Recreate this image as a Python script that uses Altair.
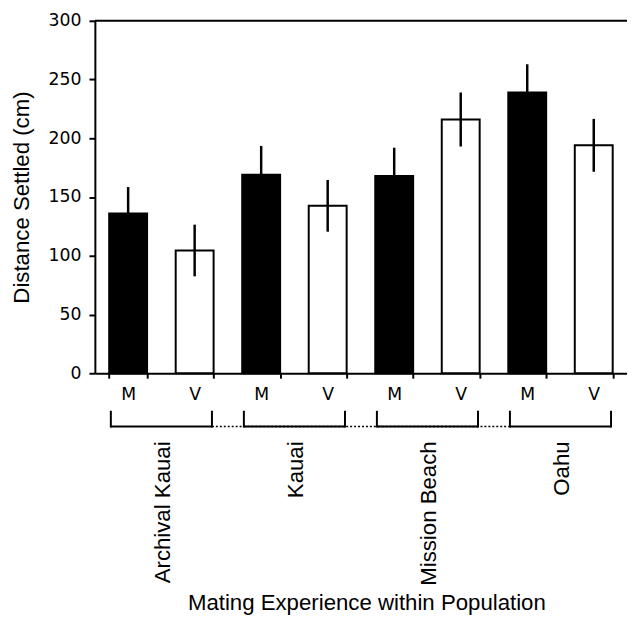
import altair as alt
import pandas as pd

populations = ["Archival Kauai", "Kauai", "Mission Beach", "Oahu"]
experience = ["M", "V"]
mated_mean = [136, 169, 168, 239]
mated_se = [22.5, 24.5, 24, 24]
virgin_mean = [104.5, 142.5, 216, 194]
virgin_se = [22, 22, 23, 22.5]
y_ticks = [0, 50, 100, 150, 200, 250, 300]

rows = []
for i, p in enumerate(populations):
    for e, means, ses in (("M", mated_mean, mated_se), ("V", virgin_mean, virgin_se)):
        rows.append(dict(pop=p, exp=e, cat=f"{p}|{e}", mean=means[i],
                         lo=means[i] - ses[i], hi=means[i] + ses[i]))
df = pd.DataFrame(rows)
cats = list(df["cat"])
pop_df = pd.DataFrame({"pop": populations})
span_df = pd.DataFrame({"start": [populations[0]], "end": [populations[-1]]})

W, H = 539, 357
LABEL_SIZE = 17.5
xcat = alt.Scale(domain=cats, paddingInner=0.43, paddingOuter=0.215)
xpop = alt.Scale(domain=populations, paddingInner=0, paddingOuter=0)
yscale = alt.Scale(domain=[0, 300])

x_axis = alt.Axis(labelExpr="split(datum.label, '|')[1]", tickBand="extent",
                  labelAngle=0, labelFont="DejaVu Sans", labelFontSize=LABEL_SIZE,
                  labelPadding=8, tickSize=5,
                  title="Mating Experience within Population",
                  titleY=232, titleX=275, titleAlign="center",
                  titleBaseline="middle")
y_axis = alt.Axis(values=y_ticks, title="Distance Settled (cm)",
                  labelFont="DejaVu Sans", labelFontSize=LABEL_SIZE,
                  labelPadding=8, tickSize=6, titlePadding=15)

base = alt.Chart(df)
bars = base.mark_bar(stroke="black", strokeWidth=2).encode(
    x=alt.X("cat:N", scale=xcat, sort=cats, axis=x_axis),
    y=alt.Y("mean:Q", scale=yscale, axis=y_axis),
    fill=alt.Fill("exp:N", scale=alt.Scale(domain=experience, range=["black", "white"]),
                  legend=None),
)
errs = base.mark_rule(color="black", strokeWidth=2.5).encode(
    x=alt.X("cat:N", scale=xcat, sort=cats, axis=x_axis),
    y=alt.Y("lo:Q", scale=yscale, axis=y_axis),
    y2="hi:Q",
)
data_layer = alt.layer(bars, errs)

top_line = alt.Chart(pop_df.head(1)).mark_rule(color="black", strokeWidth=2).encode(
    y=alt.value(0)
)

dotted = alt.Chart(span_df).mark_rule(color="black", strokeWidth=1.5, strokeDash=[2, 2]).encode(
    x=alt.X("start:N", scale=xpop, bandPosition=0.88, axis=None),
    x2=alt.X2("end:N", bandPosition=0.12),
    y=alt.value(411),
)
bracket_h = alt.Chart(pop_df).mark_rule(color="black", strokeWidth=2).encode(
    x=alt.X("pop:N", scale=xpop, bandPosition=0.12, axis=None),
    x2=alt.X2("pop:N", bandPosition=0.88),
    y=alt.value(411),
)
bracket_l = alt.Chart(pop_df).mark_rule(color="black", strokeWidth=2).encode(
    x=alt.X("pop:N", scale=xpop, bandPosition=0.12, axis=None),
    y=alt.value(395), y2=alt.value(412),
)
bracket_r = alt.Chart(pop_df).mark_rule(color="black", strokeWidth=2).encode(
    x=alt.X("pop:N", scale=xpop, bandPosition=0.88, axis=None),
    y=alt.value(395), y2=alt.value(412),
)
pop_labels = alt.Chart(pop_df).mark_text(
    angle=270, align="right", baseline="middle", font="Liberation Sans",
    fontSize=22.5, color="black", dy=2,
).encode(
    x=alt.X("pop:N", scale=xpop, axis=None),
    y=alt.value(426),
    text="pop:N",
)
annot = alt.layer(top_line, dotted, bracket_h, bracket_l, bracket_r, pop_labels)

chart = alt.layer(data_layer, annot).resolve_scale(x="independent").properties(
    width=W, height=H, autosize="none",
    padding={"left": 88, "top": 9, "right": 0, "bottom": 250},
).configure_view(stroke=None).configure_axis(
    domainColor="black", domainWidth=2, tickColor="black", tickWidth=2,
    labelColor="black", titleColor="black", titleFont="Liberation Sans",
    titleFontWeight="normal", titleFontSize=22.5, grid=False,
    labelFont="DejaVu Sans", labelFontSize=LABEL_SIZE,
)

chart.save("out.html", embed_options={"renderer": "svg", "actions": False})
